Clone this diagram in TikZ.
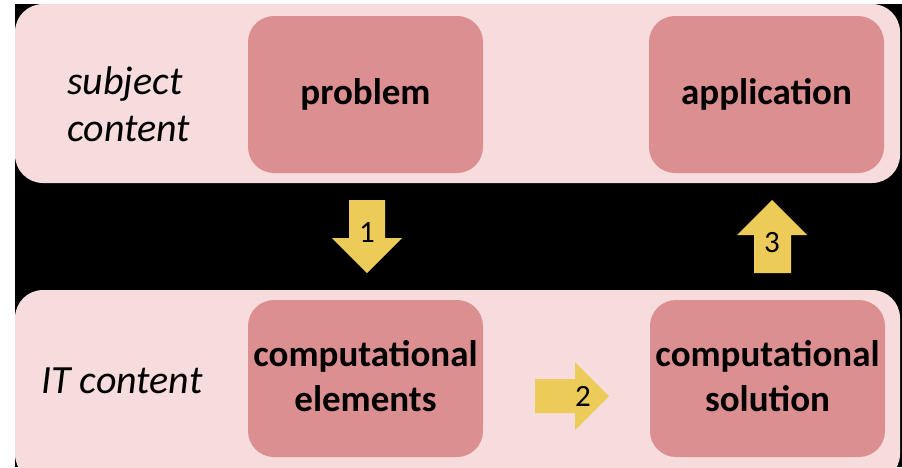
\documentclass[tikz,border=0pt]{standalone}
\usepackage{fontspec}
\setmainfont{Carlito}
\definecolor{bandpink}{HTML}{F6DCDD}
\definecolor{boxpink}{HTML}{DC8F91}
\definecolor{arrowyellow}{HTML}{EDCB58}
\begin{document}
\begin{tikzpicture}[x=1pt,y=-1pt,
 band/.style={fill=bandpink, rounded corners=28pt},
 box/.style={fill=boxpink, rounded corners=26pt, minimum width=235pt, minimum height=157pt,
   font=\fontsize{37}{45}\selectfont\bfseries, align=center, inner sep=0pt, text depth=6pt},
 lab/.style={font=\fontsize{40}{47}\selectfont\itshape, align=left, anchor=west, inner sep=0pt},
 blockarrow/.style={fill=arrowyellow},
 num/.style={font=\fontsize{31}{31}\selectfont, inner sep=0pt}]
\useasboundingbox (0,0) rectangle (902,467);
\clip (0,0) rectangle (902,467);
\fill[white] (0,0) rectangle (902,467);
\fill[black] (15,4) rectangle (902,467);
\fill[band] (15,4) rectangle (900,183);
\fill[band] (15,290) rectangle (900,482);

\node[box] (problem) at (365.5,94.5) {problem};
\node[box] (application) at (766.5,94.5) {application};
\node[box] (elements) at (365.5,378.5) {computational\\elements};
\node[box] (solution) at (767.5,378.5) {computational\\solution};

\node[lab] (subj) at (67,104) {subject\\content};
\node[lab] (itc) at (41,381) {IT content};

\fill[blockarrow] (349,200) -- (385,200) -- (385,238) -- (402,238) -- (367,273) -- (332,238) -- (349,238) -- cycle;
\node[num] (n1) at (367,233) {1};

\fill[blockarrow] (754,273) -- (791,273) -- (791,235) -- (807,235) -- (772,200) -- (737,235) -- (754,235) -- cycle;
\node[num] (n3) at (772,243) {3};

\fill[blockarrow] (535,379) -- (575,379) -- (575,362) -- (609,396) -- (575,430) -- (575,413) -- (535,413) -- cycle;
\node[num] (n2) at (583,396) {2};
\end{tikzpicture}
\end{document}
